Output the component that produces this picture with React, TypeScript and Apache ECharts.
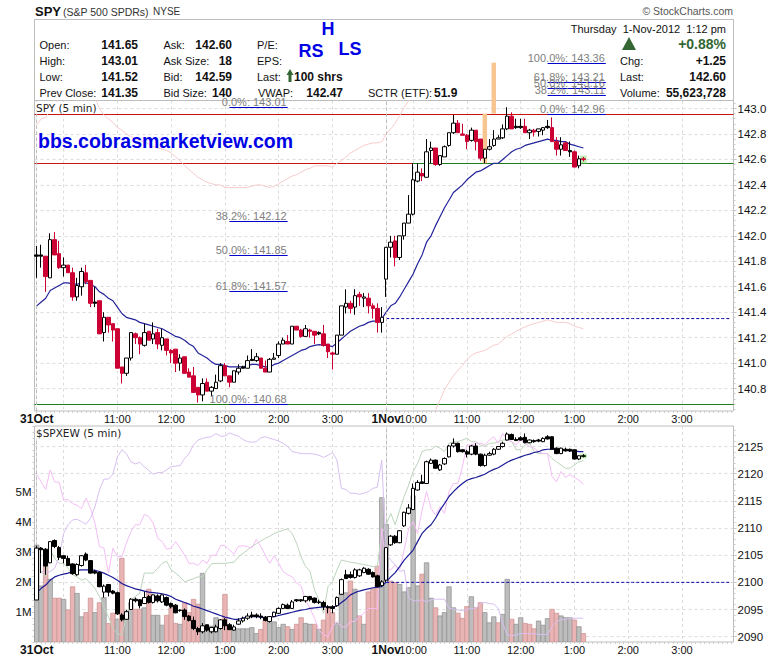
import React, { useEffect, useRef } from "react";
import * as echarts from "echarts";

// ---------- time axis ----------
const BARS_PER_SESSION = 78;
const sessionTimes: string[] = [];
for (let i = 0; i < BARS_PER_SESSION; i++) {
  const m = 9 * 60 + 30 + i * 5;
  sessionTimes.push(`${((Math.floor(m / 60) + 11) % 12) + 1}:${String(m % 60).padStart(2, "0")}`);
}
const categories = [...sessionTimes.map((t) => `31Oct ${t}`), ...sessionTimes.map((t) => `1Nov ${t}`)];
const xTickIndex = [0, 18, 30, 42, 54, 66, 78, 84, 96, 108, 120, 132, 144];
const xTickText = ["31Oct", "11:00", "12:00", "1:00", "2:00", "3:00", "1Nov", "10:00", "11:00", "12:00", "1:00", "2:00", "3:00"];
const xGridIndex = [0, 6, 18, 30, 42, 54, 66, 78, 84, 96, 108, 120, 132, 144];
const sessionStarts = [0, 78];

// ---------- SPY rows: open, high, low, close ----------
const spyBars: number[][] = [
  [141.85,141.92,141.67,141.84],[141.85,141.93,141.75,141.84],[141.84,141.84,141.56,141.68],[141.67,142.02,141.67,141.97],
  [141.97,142.03,141.85,141.85],[141.86,141.96,141.74,141.75],[141.75,141.83,141.68,141.77],[141.77,141.77,141.71,141.71],
  [141.71,141.75,141.49,141.52],[141.52,141.67,141.49,141.61],[141.60,141.75,141.53,141.72],[141.71,141.77,141.62,141.64],
  [141.65,141.65,141.44,141.47],[141.48,141.60,141.44,141.47],[141.49,141.49,141.23,141.23],[141.24,141.40,141.17,141.36],
  [141.36,141.36,141.24,141.30],[141.31,141.31,141.17,141.26],[141.27,141.27,140.96,140.96],[140.97,140.97,140.84,140.92],
  [140.92,141.04,140.90,141.04],[141.04,141.24,141.02,141.24],[141.23,141.24,141.15,141.20],[141.20,141.21,141.07,141.15],
  [141.14,141.31,141.13,141.24],[141.25,141.25,141.18,141.18],[141.19,141.32,141.15,141.23],[141.24,141.27,141.11,141.15],
  [141.14,141.27,141.10,141.20],[141.19,141.19,141.06,141.10],[141.10,141.11,141.00,141.08],[141.11,141.11,140.93,141.00],
  [141.00,141.07,140.94,141.04],[141.05,141.05,140.92,140.92],[140.93,140.96,140.89,140.89],[140.90,140.97,140.77,140.77],
  [140.81,140.81,140.69,140.75],[140.75,140.88,140.70,140.84],[140.85,140.88,140.78,140.78],[140.78,140.82,140.74,140.81],
  [140.80,140.91,140.80,140.85],[140.86,141.00,140.85,140.98],[140.98,141.00,140.90,140.90],[140.90,140.90,140.81,140.85],
  [140.85,140.94,140.85,140.94],[140.93,140.99,140.91,140.96],[140.97,140.98,140.96,140.96],[140.96,141.06,140.96,141.02],
  [141.03,141.11,141.02,141.02],[141.02,141.08,141.01,141.05],[141.04,141.04,140.96,140.96],[140.96,141.02,140.93,140.93],
  [140.93,141.04,140.93,141.03],[141.03,141.08,141.03,141.04],[141.06,141.17,141.04,141.15],[141.15,141.20,141.15,141.18],
  [141.17,141.22,141.15,141.15],[141.15,141.29,141.15,141.29],[141.29,141.29,141.26,141.26],[141.26,141.27,141.20,141.21],
  [141.21,141.30,141.21,141.27],[141.26,141.27,141.20,141.25],[141.25,141.25,141.15,141.22],[141.24,141.25,141.22,141.23],
  [141.23,141.30,141.13,141.14],[141.15,141.15,141.04,141.09],[141.08,141.09,140.95,141.07],[141.07,141.22,141.07,141.22],
  [141.22,141.45,141.22,141.45],[141.44,141.58,141.39,141.47],[141.47,141.49,141.39,141.43],[141.44,141.58,141.38,141.53],
  [141.54,141.56,141.45,141.52],[141.51,141.55,141.44,141.52],[141.51,141.55,141.39,141.45],[141.45,141.47,141.35,141.43],
  [141.43,141.47,141.24,141.32],[141.32,141.44,141.24,141.36],
  [141.66,141.91,141.52,141.91],[141.91,142.00,141.83,141.95],[141.96,142.00,141.76,141.83],[141.83,142.00,141.81,142.00],
  [142.00,142.10,141.97,142.10],[142.10,142.32,142.10,142.17],[142.17,142.57,142.16,142.44],[142.43,142.57,142.42,142.50],
  [142.49,142.53,142.43,142.47],[142.46,142.76,142.46,142.66],[142.67,142.74,142.57,142.69],[142.69,142.69,142.55,142.56],
  [142.56,142.63,142.55,142.63],[142.62,142.71,142.62,142.70],[142.71,142.81,142.70,142.81],[142.81,142.95,142.80,142.885],
  [142.885,142.91,142.81,142.81],[142.80,142.88,142.79,142.79],[142.79,142.80,142.68,142.74],[142.75,142.85,142.74,142.83],
  [142.83,142.83,142.67,142.74],[142.76,142.76,142.59,142.61],[142.61,142.68,142.57,142.68],[142.68,142.76,142.67,142.70],
  [142.71,142.83,142.70,142.76],[142.76,142.79,142.76,142.77],[142.77,142.875,142.76,142.84],[142.84,143.01,142.83,142.94],
  [142.94,142.97,142.84,142.84],[142.86,142.92,142.84,142.85],[142.86,142.92,142.84,142.85],[142.86,142.92,142.81,142.81],
  [142.81,142.84,142.76,142.83],[142.83,142.84,142.78,142.815],[142.82,142.84,142.78,142.84],[142.83,142.85,142.79,142.85],
  [142.86,142.91,142.84,142.85],[142.85,142.93,142.74,142.74],[142.74,142.775,142.63,142.68],[142.68,142.775,142.63,142.715],
  [142.73,142.74,142.67,142.67],[142.67,142.74,142.62,142.66],[142.66,142.67,142.54,142.54],[142.55,142.63,142.53,142.605],
  [142.605,142.62,142.585,142.60],
];
const spyBlackBars = [0, 1, 13, 46, 48, 63, 107, 108, 114, 119];

const spyMa = [
  141.45,141.48,141.51,141.57,141.59,141.61,141.63,141.63,141.62,141.62,141.63,141.63,141.62,141.60,141.56,141.54,141.51,141.49,141.44,141.39,
  141.36,141.35,141.34,141.32,141.31,141.30,141.29,141.28,141.27,141.25,141.23,141.21,141.20,141.18,141.15,141.13,141.08,141.06,141.04,141.01,
  140.99,140.99,140.98,140.97,140.97,140.97,140.97,140.98,140.99,140.99,140.98,140.97,140.97,140.99,141.00,141.02,141.04,141.06,141.08,141.10,
  141.11,141.13,141.14,141.145,141.14,141.14,141.13,141.16,141.19,141.22,141.25,141.27,141.29,141.30,141.32,141.33,141.33,141.35,
  141.40,141.45,141.47,141.52,141.58,141.64,141.70,141.78,141.85,141.95,142.00,142.08,142.15,142.22,142.28,142.34,142.37,142.40,142.44,142.47,
  142.50,142.51,142.53,142.55,142.57,142.57,142.60,142.63,142.66,142.68,142.69,142.71,142.72,142.73,142.74,142.75,142.76,142.75,142.75,142.74,
  142.74,142.72,142.71,142.70,142.69,
];
const spyUpperBand = [
  142.87,142.92,142.93,142.985,143.02,143.09,143.12,143.16,143.18,143.19,143.17,143.14,143.10,143.08,143.00,142.95,142.92,142.89,142.85,142.83,
  142.80,142.78,142.76,142.75,142.74,142.72,142.70,142.69,142.68,142.67,142.65,142.62,142.59,142.55,142.52,142.49,142.46,142.44,142.42,142.41,
  142.40,142.40,142.38,142.38,142.38,142.38,142.38,142.38,142.39,142.40,142.40,142.39,142.38,142.39,142.41,142.43,142.45,142.47,142.48,142.50,
  142.52,142.53,142.55,142.55,142.55,142.55,142.54,142.57,142.59,142.62,142.65,142.67,142.69,142.71,142.72,142.73,142.73,142.74,142.80,142.84,
  142.885,142.945,143.01,143.06,143.12,
];
const spyLowerBandStart = 87;
const spyLowerBand = [
  140.47,140.55,140.63,140.71,140.79,140.85,140.90,140.945,140.98,141.03,141.06,141.08,141.09,141.10,141.12,141.14,141.15,141.18,141.21,141.23,
  141.25,141.27,141.285,141.30,141.31,141.32,141.33,141.34,141.33,141.32,141.32,141.32,141.31,141.29,141.28,141.27,
];

// ---------- $SPXEW rows: open, high, low, close ----------
const spxewBars: number[][] = [
  [2096.75,2106.75,2096.75,2106.3],[2106.3,2106.5,2101.7,2106.0],[2106.1,2106.3,2101.4,2103.0],[2103.6,2107.5,2103.5,2107.5],
  [2107.7,2107.9,2106.3,2106.6],[2106.4,2106.7,2104.1,2104.6],[2104.9,2105.0,2103.5,2104.4],[2104.4,2104.9,2103.0,2103.1],
  [2103.4,2103.5,2101.4,2101.6],[2101.4,2103.5,2101.2,2103.3],[2103.1,2105.0,2102.9,2104.9],[2105.2,2105.5,2103.9,2104.1],
  [2104.0,2104.1,2101.6,2101.7],[2102.0,2102.3,2101.5,2101.7],[2101.8,2102.0,2099.1,2099.2],[2098.2,2099.6,2097.2,2099.3],
  [2099.6,2099.6,2097.4,2098.2],[2098.4,2098.6,2097.8,2098.0],[2098.1,2098.3,2094.0,2094.2],[2094.0,2094.3,2092.8,2093.1],
  [2093.2,2094.9,2093.1,2094.6],[2095.0,2097.1,2094.9,2096.9],[2096.9,2097.2,2096.3,2096.6],[2096.8,2096.9,2095.2,2095.7],
  [2096.1,2098.3,2096.0,2097.2],[2097.4,2097.7,2096.1,2096.3],[2096.3,2097.8,2096.1,2097.7],[2097.5,2097.8,2096.3,2096.6],
  [2096.4,2097.8,2096.2,2097.7],[2097.2,2097.4,2095.6,2095.8],[2096.1,2096.3,2095.2,2095.5],[2095.8,2096.0,2094.3,2094.4],
  [2094.9,2095.0,2094.6,2094.8],[2094.9,2095.2,2093.1,2093.7],[2093.8,2094.0,2092.8,2093.0],[2093.0,2093.7,2091.2,2091.5],
  [2091.5,2091.8,2090.3,2090.9],[2090.9,2092.5,2090.6,2092.0],[2092.2,2092.2,2090.9,2091.2],[2090.9,2091.8,2090.6,2091.7],
  [2090.9,2092.2,2090.8,2091.8],[2091.5,2093.2,2091.3,2093.1],[2093.1,2093.4,2091.2,2092.0],[2092.2,2092.5,2091.2,2091.3],
  [2091.2,2092.2,2091.1,2091.8],[2092.3,2093.4,2092.2,2092.9],[2092.9,2093.7,2092.6,2093.4],[2093.4,2094.3,2093.1,2093.8],
  [2094.0,2094.6,2093.4,2093.7],[2094.0,2094.3,2093.4,2093.7],[2093.8,2094.3,2093.2,2093.6],[2093.6,2093.8,2092.8,2093.0],
  [2092.8,2093.7,2092.6,2093.7],[2093.7,2094.6,2093.6,2094.5],[2094.3,2095.4,2094.2,2095.2],[2095.2,2096.1,2095.1,2095.9],
  [2095.8,2096.1,2095.1,2095.2],[2095.2,2096.75,2095.1,2096.4],[2096.8,2096.9,2096.4,2096.6],[2096.8,2096.9,2096.4,2096.6],
  [2096.6,2097.5,2096.3,2097.4],[2097.4,2097.5,2096.5,2096.8],[2097.1,2097.2,2096.1,2096.3],[2096.4,2096.8,2096.0,2096.3],
  [2096.3,2096.6,2094.9,2095.5],[2095.5,2095.8,2094.3,2095.3],[2095.5,2095.8,2094.3,2095.2],[2095.7,2097.4,2095.5,2097.2],
  [2097.8,2100.7,2097.7,2100.5],[2101.4,2102.3,2100.6,2100.7],[2101.4,2102.0,2100.7,2100.9],[2100.9,2102.6,2100.7,2102.3],
  [2101.2,2102.5,2101.0,2102.3],[2101.8,2102.8,2101.7,2102.6],[2102.4,2102.6,2101.4,2101.5],[2101.8,2102.0,2100.9,2101.0],
  [2101.2,2101.4,2099.1,2099.2],[2099.4,2100.4,2099.2,2100.1],
  [2100.4,2106.4,2100.1,2106.4],[2106.9,2108.7,2106.7,2108.5],[2108.5,2108.7,2107.1,2107.3],[2107.3,2109.6,2107.2,2109.5],
  [2110.4,2113.0,2110.2,2112.9],[2112.7,2114.4,2112.5,2113.7],[2113.4,2118.2,2113.3,2117.3],[2117.0,2118.8,2116.9,2118.4],
  [2118.5,2119.8,2118.1,2118.2],[2118.2,2122.4,2118.1,2122.2],[2121.9,2122.8,2121.8,2122.5],[2122.5,2122.6,2120.9,2121.0],
  [2120.7,2121.8,2120.5,2121.6],[2121.8,2123.0,2121.6,2122.8],[2123.1,2125.3,2123.0,2125.1],[2125.1,2126.5,2124.8,2125.6],
  [2125.6,2125.7,2123.9,2124.05],[2124.4,2124.5,2123.9,2124.05],[2124.05,2124.4,2123.0,2123.6],[2123.6,2125.3,2123.4,2125.1],
  [2125.1,2125.6,2123.4,2123.6],[2123.6,2123.7,2121.3,2121.5],[2121.5,2123.7,2121.3,2123.4],[2123.4,2124.05,2123.3,2123.7],
  [2123.6,2124.7,2123.4,2124.5],[2124.5,2125.1,2124.4,2125.0],[2125.0,2125.9,2124.8,2125.6],[2126.2,2127.6,2126.1,2127.3],
  [2127.2,2127.4,2126.2,2126.3],[2126.3,2126.7,2126.0,2126.1],[2126.6,2126.9,2126.1,2126.2],[2126.7,2127.4,2125.6,2125.7],
  [2125.7,2126.3,2125.6,2126.2],[2126.1,2126.3,2125.7,2125.9],[2126.2,2126.4,2125.8,2126.0],[2125.9,2126.7,2125.8,2126.5],
  [2126.8,2127.1,2126.3,2126.4],[2126.8,2126.9,2124.4,2124.5],[2124.7,2124.85,2123.6,2123.7],[2123.7,2124.8,2123.6,2124.7],
  [2124.5,2124.8,2124.05,2124.2],[2124.5,2124.6,2124.0,2124.2],[2124.4,2124.5,2122.6,2122.7],[2122.7,2123.4,2122.5,2123.3],
  [2123.3,2123.6,2123.0,2123.2],
];
const spxewMa = [
  2098.1,2098.9,2099.5,2100.4,2101.0,2101.3,2101.5,2101.7,2102.0,2102.2,2102.3,2102.3,2102.3,2102.2,2102.0,2101.7,2101.3,2100.9,2100.4,2099.8,
  2099.4,2099.1,2098.8,2098.6,2098.4,2098.2,2098.1,2098.0,2097.9,2097.7,2097.4,2096.9,2096.6,2096.3,2096.0,2095.6,2095.4,
  2095.1,2094.8,2094.5,2094.2,2093.9,2093.6,2093.4,2093.2,2093.2,2093.4,2093.6,2093.7,2093.7,2093.6,2093.4,2093.6,2093.7,2093.9,2094.1,2094.3,
  2094.5,2094.7,2094.9,2095.0,2095.2,2095.3,2095.4,2095.5,2095.5,2095.4,2095.7,2096.3,2096.9,2097.7,2098.1,2098.4,2098.6,2098.8,2099.0,2099.1,2099.2,
  2100.1,2101.0,2101.8,2102.9,2104.1,2105.0,2105.95,2107.5,2109.0,2109.9,2110.6,2111.8,2113.3,2114.5,2115.8,2116.7,2117.5,2118.2,2118.8,2119.1,
  2119.3,2119.6,2119.9,2120.4,2120.8,2121.1,2121.6,2122.1,2122.5,2122.8,2123.1,2123.4,2123.6,2123.9,2124.05,2124.4,2124.5,2124.5,2124.5,2124.4,
  2124.4,2124.2,2124.2,2124.05,2124.05,
];
const overlayPink = [
  2119.8,2118.5,2117.1,2120.7,2118.5,2118.4,2115.2,2115.2,2114.5,2114.2,2113.6,2115.5,2113.6,2110.9,2106.6,2106.3,2101.7,2106.3,2104.7,2104.7,
  2107.2,2109.3,2110.6,2110.6,2112.5,2112.1,2110.9,2108.1,2107.5,2106.1,2106.3,2107.5,2106.3,2105.0,2103.5,2103.5,2103.1,
  2104.1,2103.5,2105.0,2105.0,2106.75,2106.75,2106.0,2105.2,2106.6,2106.75,2106.6,2106.3,2107.9,2106.6,2105.0,2103.5,2104.9,2103.5,2102.0,2101.4,
  2101.0,2099.9,2099.3,2096.75,2095.2,2093.4,2091.2,2090.4,2090.0,2091.8,2092.8,2091.8,2091.8,2092.8,2092.8,2093.7,2094.3,2095.2,2095.2,2095.2,2109.9,
  2102.9,2102.3,2103.2,2102.3,2106.0,2109.9,2111.2,2109.0,2113.3,2116.7,2113.6,2112.4,2113.9,2112.7,2116.7,2118.2,2118.2,2121.3,2125.3,2125.3,
  2125.6,2125.6,2125.3,2126.2,2126.8,2125.6,2127.4,2126.2,2125.9,2125.3,2126.2,2125.6,2125.0,2124.7,2124.05,2123.7,2123.7,2119.5,2118.5,2120.4,
  2119.3,2119.8,2119.3,2118.8,2118.1,
];
const overlayPurple = [
  2102.9,2102.0,2101.7,2102.0,2102.6,2104.7,2109.0,2110.6,2111.5,2111.6,2111.2,2110.7,2111.8,2113.9,2117.0,2119.0,2119.0,2119.9,2123.1,2124.4,
  2123.7,2122.2,2121.8,2122.1,2121.3,2120.6,2119.9,2120.2,2120.2,2120.7,2121.3,2121.4,2121.5,2122.8,2123.7,2125.3,2126.2,
  2126.5,2126.7,2126.8,2127.4,2126.9,2126.9,2127.5,2127.2,2126.9,2126.3,2125.9,2125.8,2125.9,2126.6,2126.8,2126.5,2126.3,2126.0,2125.6,2125.0,
  2124.05,2123.9,2123.7,2123.7,2123.7,2123.6,2123.4,2123.0,2123.4,2123.9,2122.5,2117.3,2117.1,2116.4,2116.4,2116.2,2116.4,2116.7,2117.3,2117.5,2122.5,
  2105.3,2104.1,2103.2,2102.0,2102.3,2097.1,2096.6,2096.6,2096.8,2096.4,2096.8,2096.9,2096.9,2096.9,2095.2,2095.1,2094.9,2094.8,2095.0,2095.2,
  2095.2,2096.1,2096.3,2096.1,2096.0,2095.2,2092.5,2090.3,2090.2,2090.3,2090.6,2090.6,2090.5,2090.6,2090.4,2090.4,2090.4,2091.8,2092.8,2093.1,
  2093.2,2093.4,2093.4,2093.4,2093.4,
];
const overlayGreen = [
  2102.9,2102.0,2101.0,2105.95,2104.4,2103.5,2103.5,2102.6,2101.4,2101.0,2100.4,2100.7,2099.8,2098.9,2097.4,2095.5,2093.7,2091.5,2090.6,2090.3,
  2093.7,2096.75,2097.4,2098.0,2101.7,2101.7,2101.7,2102.6,2103.5,2103.9,2102.3,2101.7,2101.0,2100.1,2100.4,2100.7,2101.0,
  2101.0,2102.3,2103.4,2103.5,2103.5,2103.5,2103.6,2103.7,2104.7,2105.3,2105.95,2106.6,2107.1,2107.6,2108.1,2108.5,2109.0,2109.3,2109.6,2109.8,
  2109.0,2107.2,2104.7,2102.9,2102.0,2098.6,2096.75,2094.3,2099.2,2100.1,2102.3,2104.1,2103.9,2103.7,2103.6,2103.4,2103.3,2103.1,2102.9,2102.9,2109.0,
  2110.6,2112.7,2110.6,2113.3,2115.8,2117.9,2120.4,2121.9,2124.05,2124.4,2124.4,2125.1,2124.7,2124.05,2125.6,2125.9,2125.9,2126.2,2126.5,2125.9,
  2125.9,2125.3,2125.0,2125.6,2125.6,2125.9,2126.2,2126.2,2125.9,2124.4,2124.4,2125.3,2125.6,2124.05,2123.7,2123.7,2123.7,2122.8,2122.2,2121.6,
  2121.0,2121.0,2121.6,2122.2,2122.4,
];
const volumeMillions = [
  3.23,1.87,2.57,2.09,1.46,1.46,1.42,1.07,1.84,1.62,0.84,0.98,1.46,0.98,1.31,1.48,0.62,0.96,0.76,2.79,
  1.03,1.31,1.09,1.09,1.14,1.76,0.89,0.89,0.56,0.89,1.14,0.62,0.59,1.31,0.98,1.42,1.26,2.29,0.42,0.53,
  0.81,0.64,1.59,0.53,0.42,0.44,0.44,0.44,0.48,0.28,0.42,0.72,0.64,0.67,0.48,0.59,0.51,0.42,0.59,0.81,
  0.62,0.59,0.59,0.42,0.73,1.11,0.98,0.62,1.64,1.64,2.03,1.76,0.87,0.59,1.67,1.76,2.53,4.81,
  3.92,2.03,1.98,1.92,1.67,1.81,4.87,1.87,2.26,2.64,1.46,1.14,0.87,0.98,1.84,1.14,0.96,0.79,1.18,1.51,
  1.14,1.31,0.98,0.64,0.84,0.64,0.92,2.09,0.76,0.59,0.81,0.62,0.59,0.44,0.70,0.56,0.78,1.09,0.96,0.87,
  0.81,0.81,0.73,0.51,0.28,
];
const volumeRedBars = [
  2,4,5,7,8,11,12,14,16,17,19,22,23,25,29,30,31,33,34,35,36,42,43,50,51,56,58,59,62,64,65,66,70,72,74,75,76,
  79,80,86,89,94,95,96,98,99,103,106,109,110,111,115,116,120,122,
];

// ---------- annotations ----------
const leftFibStart = 43, leftFibEnd = 56;
const rightFibStart = 114, rightFibEnd = 127;
const leftFibPct = ["0.0%", "38.2%", "50.0%", "61.8%", "100.0%"];
const leftFibPrice = [143.01, 142.12, 141.85, 141.57, 140.68];
const rightFibPct = ["100.0%", "61.8%", "50.0%", "38.2%", "0.0%"];
const rightFibPrice = [143.36, 143.21, 143.16, 143.11, 142.96];
const prevCloseStart = 78, spyPrevClose = 141.35, spxewRefLevel = 2100;
const redLevel = 142.96, midLevel = 142.57, lowLevel = 140.68, midLevelSwitch = 84;
const orangeBars = [[102, 142.96, 143.36], [100, 142.57, 142.96]];
const spyLastMarker = [122, 142.57, 142.63];
const spxewLastMarker = [122, 2122.8, 2123.7];
const spyTicks = [140.8, 141.0, 141.2, 141.4, 141.6, 141.8, 142.0, 142.2, 142.4, 142.6, 142.8, 143.0];
const spxewTicks = [2090, 2095, 2100, 2105, 2110, 2115, 2120, 2125];
const volumeLabels = [1, 2, 3, 4, 5];
const spyMinorStep = 0.04, spxewMinorStep = 1, volumeMinorStep = 0.2;

const col1Labels = ["Open:", "High:", "Low:", "Prev Close:"];
const col1Values = ["141.65", "143.01", "141.52", "141.35"];
const col2Labels = ["Ask:", "Ask Size:", "Bid:", "Bid Size:"];
const col2Values = ["142.60", "18", "142.59", "140"];
const quoteLabels = ["Chg:", "Last:", "Volume:"];
const quoteValues = ["+1.25", "142.60", "55,623,728"];

const FONT = '"Liberation Sans", Arial, sans-serif';
const RED = "#CC0033";
const GRID = "#dcdcdc";
const FRAME = "#bdbdbd";
const DGREEN = "#336633";

function steps(from: number, to: number, step: number) {
  const out: number[] = [];
  const n = Math.round((to - from) / step);
  for (let i = 0; i <= n; i++) out.push(Number((from + i * step).toFixed(3)));
  return out;
}

function txt(x: number, y: number, text: string, o: any = {}) {
  return {
    type: "text", x, y, z: 20, silent: true,
    style: { text, fontFamily: FONT, fontSize: 11, fill: "#111", verticalAlign: "middle", align: "left", ...o },
  };
}

function buildGraphic() {
  const g: any[] = [];
  g.push({ type: "rect", shape: { x: 34.5, y: 19.5, width: 699, height: 81 }, z: 1, style: { fill: "none", stroke: FRAME, lineWidth: 1 } });
  g.push(txt(35, 11, "SPY", { fontWeight: "bold", fontSize: 13 }));
  g.push(txt(63, 11.5, "(S&P 500 SPDRs)", { fontSize: 10.5, fill: "#333" }));
  g.push(txt(153, 11.5, "NYSE", { fontSize: 10, fill: "#333" }));
  g.push(txt(733, 11, "\u00A9 StockCharts.com", { fontSize: 10.5, fill: "#555", align: "right" }));
  const rows = [44.5, 60.5, 76.5, 92.5];
  rows.forEach((y, i) => {
    g.push(txt(39.5, y, col1Labels[i]));
    g.push(txt(138, y, col1Values[i], { fontWeight: "bold", fontSize: 12, align: "right" }));
    g.push(txt(163.5, y, col2Labels[i]));
    g.push(txt(232, y, col2Values[i], { fontWeight: "bold", fontSize: 12, align: "right" }));
  });
  g.push(txt(257, 44.5, "P/E:"));
  g.push(txt(257, 60.5, "EPS:"));
  g.push(txt(257, 76.5, "Last:"));
  g.push({ type: "polygon", z: 20, shape: { points: [[290, 69], [293.5, 75], [291.5, 75], [291.5, 82], [288.5, 82], [288.5, 75], [286.5, 75]] }, style: { fill: DGREEN } });
  g.push(txt(294, 76.5, "100 shrs", { fontWeight: "bold", fontSize: 12 }));
  g.push(txt(258, 92.5, "VWAP:"));
  g.push(txt(343, 92.5, "142.47", { fontWeight: "bold", fontSize: 12, align: "right" }));
  g.push(txt(368, 92.5, "SCTR (ETF):"));
  g.push(txt(434, 92.5, "51.9", { fontWeight: "bold", fontSize: 12 }));
  g.push(txt(328, 28.5, "H", { fontWeight: "bold", fontSize: 18, fill: "#0000e6", align: "center" }));
  g.push(txt(311, 50.5, "RS", { fontWeight: "bold", fontSize: 18, fill: "#0000e6", align: "center" }));
  g.push(txt(350, 48.5, "LS", { fontWeight: "bold", fontSize: 18, fill: "#0000e6", align: "center" }));
  g.push(txt(726, 28.5, "Thursday  1-Nov-2012  1:12 pm", { align: "right", fontSize: 11 }));
  g.push({ type: "polygon", z: 20, shape: { points: [[629, 37], [636, 50], [622, 50]] }, style: { fill: DGREEN } });
  g.push(txt(726, 44, "+0.88%", { align: "right", fontWeight: "bold", fontSize: 14, fill: DGREEN }));
  [60.5, 76.5, 92.5].forEach((y, i) => {
    g.push(txt(620, y, quoteLabels[i]));
    g.push(txt(726, y, quoteValues[i], { align: "right", fontWeight: "bold", fontSize: 12 }));
  });
  g.push(txt(38, 140.5, "bbs.cobrasmarketview.com", { fontWeight: "bold", fontSize: 19.5, fill: "#0000e6" }));
  g.push(txt(36, 107.5, "SPY (5 min)", { fontFamily: '"DejaVu Sans"', fontSize: 10.5, fill: "#222", backgroundColor: "#fff" }));
  g.push(txt(36, 433, "$SPXEW (5 min)", { fontFamily: '"DejaVu Sans"', fontSize: 10.5, fill: "#222", backgroundColor: "#fff" }));
  return g;
}

function xAxis(gridIndex: number) {
  return {
    type: "category", gridIndex, data: categories, boundaryGap: true,
    axisLine: { show: false },
    axisTick: { show: true, alignWithLabel: true, interval: 0, length: 2, lineStyle: { color: "#cfcfcf" } },
    axisLabel: {
      show: true, margin: 2, fontFamily: FONT, fontSize: 11, color: "#111",
      interval: (i: number) => xTickIndex.includes(i),
      formatter: (_: string, i: number) => {
        const s = xTickText[xTickIndex.indexOf(i)];
        return sessionStarts.includes(i) ? `{b|${s}}` : s;
      },
      rich: { b: { fontWeight: "bold", fontFamily: FONT, fontSize: 12, color: "#111" } },
    },
    splitLine: {
      show: true, alignWithLabel: true, interval: (i: number) => xGridIndex.includes(i),
      lineStyle: { color: GRID, type: [3, 3], width: 1 },
    },
  };
}

function candle(rows: number[][], isBlack: (i: number, r: number[]) => boolean) {
  return rows.map((r, i) => {
    const black = isBlack(i, r);
    return {
      value: [r[0], r[3], r[2], r[1]],
      itemStyle: black
        ? { color: "#000", color0: "#000", borderColor: "#000", borderColor0: "#000", borderColorDoji: "#000" }
        : undefined,
    };
  });
}

function levelRender(params: any, api: any) {
  const g = params.coordSys;
  const price = api.value(2);
  const y = Math.round(api.coord([0, price])[1]) + 0.5;
  const a = api.value(0), b = api.value(1);
  const x1 = a < 0 ? g.x : api.coord([a, price])[0];
  const x2 = b < 0 ? g.x + g.width : api.coord([b, price])[0];
  return { type: "line", shape: { x1, y1: y, x2, y2: y }, style: { stroke: api.value(3) === 1 ? "#1b7a1b" : "#cc1111", lineWidth: 1.2 }, silent: true };
}

function fibRender(labels: string[], prices: number[]) {
  return (params: any, api: any) => {
    const a = api.coord([api.value(0), api.value(2)]);
    const b = api.coord([api.value(1), api.value(2)]);
    const y = Math.round(a[1]) + 0.5;
    return {
      type: "group",
      children: [
        { type: "line", shape: { x1: a[0], y1: y, x2: b[0], y2: y }, style: { stroke: "#0000cc", lineWidth: 1 } },
        {
          type: "text", x: b[0] - 1, y: y - 5.5,
          style: {
            text: `${labels[params.dataIndex]}: ${prices[params.dataIndex].toFixed(2)}`,
            fontFamily: FONT, fontSize: 11, fill: "#808080", align: "right", verticalAlign: "middle",
          },
        },
      ],
    };
  };
}

function blockRender(width: number, fill: string) {
  return (_: any, api: any) => {
    const top = api.coord([api.value(0), api.value(2)]);
    const bot = api.coord([api.value(0), api.value(1)]);
    return { type: "rect", shape: { x: top[0] - width / 2, y: top[1], width, height: bot[1] - top[1] }, style: { fill }, silent: true };
  };
}

function volumeRender(params: any, api: any) {
  const top = api.coord([api.value(0), api.value(1)]);
  const base = api.coord([api.value(0), 0]);
  const band = api.size([1, 0])[0];
  const red = volumeRedBars.includes(params.dataIndex);
  return {
    type: "rect",
    shape: { x: top[0] - band / 2, y: top[1], width: band, height: base[1] - top[1] },
    style: { fill: red ? "#e9b4b4" : "#bdbdbd", stroke: red ? "#cf9595" : "#959595", lineWidth: 0.8 },
    silent: true,
  };
}

function thinLine(name: string, xi: number, yi: number, data: any[], color: string, width = 1, z = 3) {
  return { name, type: "line", xAxisIndex: xi, yAxisIndex: yi, data, symbol: "none", silent: true, z, clip: true, connectNulls: false, lineStyle: { color, width } };
}

function minorAxis(gridIndex: number, position: string, min: number, max: number, values: number[]) {
  return {
    type: "value", gridIndex, position, min, max, scale: true,
    axisLine: { show: false },
    axisTick: { show: true, length: 2, lineStyle: { color: "#c8c8c8" }, customValues: values },
    axisLabel: { show: false },
    splitLine: { show: false },
  };
}

function buildOption() {
  const pad = (start: number, arr: number[]) => [...new Array(start).fill(null), ...arr];
  const sessionLine = (yi: number, xi: number) => ({
    type: "line", xAxisIndex: xi, yAxisIndex: yi, data: [], symbol: "none", silent: true, z: 1,
    markLine: {
      silent: true, symbol: "none", label: { show: false },
      lineStyle: { color: "#bdbdbd", type: [3, 3], width: 1 },
      data: sessionStarts.map((s) => ({ xAxis: s })),
    },
  });
  return {
    animation: false,
    backgroundColor: "#fff",
    graphic: buildGraphic(),
    grid: [
      { left: 34.5, top: 100.5, width: 699, height: 310.5, show: true, backgroundColor: "#fff", borderColor: FRAME, borderWidth: 1 },
      { left: 34.5, top: 426, width: 699, height: 216, show: true, backgroundColor: "#fff", borderColor: FRAME, borderWidth: 1 },
    ],
    xAxis: [xAxis(0), xAxis(1)],
    yAxis: [
      {
        type: "value", gridIndex: 0, position: "right", min: 140.624, max: 143.063, scale: true,
        axisLine: { show: false },
        axisTick: { show: true, length: 3, lineStyle: { color: FRAME }, customValues: spyTicks },
        axisLabel: { margin: 4, fontFamily: FONT, fontSize: 11.5, color: "#111", customValues: spyTicks, formatter: (v: number) => v.toFixed(1) },
        splitLine: { show: true, lineStyle: { color: GRID, type: [3, 3] } },
      },
      {
        type: "value", gridIndex: 1, position: "right", min: 2089.02, max: 2128.78, scale: true,
        axisLine: { show: false },
        axisTick: { show: true, length: 3, lineStyle: { color: FRAME }, customValues: spxewTicks },
        axisLabel: { margin: 4, fontFamily: FONT, fontSize: 11.5, color: "#111", customValues: spxewTicks, formatter: (v: number) => String(v) },
        splitLine: { show: true, lineStyle: { color: GRID, type: [3, 3] } },
      },
      {
        type: "value", gridIndex: 1, position: "left", min: 0, max: 7.2,
        axisLine: { show: false },
        axisTick: { show: true, length: 2, lineStyle: { color: FRAME }, customValues: volumeLabels },
        axisLabel: { margin: 3, fontFamily: FONT, fontSize: 11.5, color: "#111", customValues: volumeLabels, formatter: (v: number) => `${v}M` },
        splitLine: { show: false },
      },
      minorAxis(0, "right", 140.624, 143.063, steps(140.64, 143.04, spyMinorStep)),
      minorAxis(1, "right", 2089.02, 2128.78, steps(2090, 2128, spxewMinorStep)),
      minorAxis(1, "left", 0, 7.2, steps(0, 7.2, volumeMinorStep)),
    ],
    series: [
      sessionLine(0, 0),
      sessionLine(1, 1),
      // top panel
      thinLine("Upper band", 0, 0, spyUpperBand, "#f7cccc"),
      thinLine("Lower band", 0, 0, pad(spyLowerBandStart, spyLowerBand), "#f7cccc"),
      {
        type: "custom", xAxisIndex: 0, yAxisIndex: 0, z: 3, silent: true, renderItem: levelRender,
        data: [[-1, -1, redLevel, 0], [-1, midLevelSwitch, midLevel, 0], [midLevelSwitch, -1, midLevel, 1], [-1, -1, lowLevel, 1]],
      },
      {
        type: "custom", xAxisIndex: 0, yAxisIndex: 0, z: 3, silent: true, renderItem: blockRender(4.5, "#F7C690"),
        data: orangeBars,
      },
      {
        type: "custom", xAxisIndex: 0, yAxisIndex: 0, z: 3, silent: true, renderItem: blockRender(6.5, "#bdeeb0"),
        data: [spyLastMarker],
      },
      thinLine("Prev close", 0, 0, pad(prevCloseStart, new Array(BARS_PER_SESSION).fill(spyPrevClose)), "#0000aa"),
      thinLine("SPY MA", 0, 0, spyMa, "#23239b", 1.2, 4),
      {
        name: "SPY", type: "candlestick", xAxisIndex: 0, yAxisIndex: 0, barWidth: 4, z: 5, silent: true,
        itemStyle: { color: "#fff", color0: RED, borderColor: "#000", borderColor0: RED, borderColorDoji: RED, borderWidth: 1 },
        data: candle(spyBars, (i) => spyBlackBars.includes(i)),
      },
      {
        type: "custom", xAxisIndex: 0, yAxisIndex: 0, z: 6, silent: true, renderItem: fibRender(leftFibPct, leftFibPrice),
        data: leftFibPrice.map((p) => [leftFibStart, leftFibEnd, p]),
      },
      {
        type: "custom", xAxisIndex: 0, yAxisIndex: 0, z: 6, silent: true, renderItem: fibRender(rightFibPct, rightFibPrice),
        data: rightFibPrice.map((p) => [rightFibStart, rightFibEnd, p]),
      },
      // bottom panel
      {
        name: "Volume", type: "custom", xAxisIndex: 1, yAxisIndex: 2, z: 2, silent: true, clip: true,
        renderItem: volumeRender,
        data: volumeMillions.map((v, i) => [i, v]),
      },
      thinLine("Overlay green", 1, 1, overlayGreen, "#bcd4bc"),
      thinLine("Overlay pink", 1, 1, overlayPink, "#f5bdf5"),
      thinLine("Overlay purple", 1, 1, overlayPurple, "#d8bff0"),
      {
        type: "custom", xAxisIndex: 1, yAxisIndex: 1, z: 3, silent: true, renderItem: blockRender(6.5, "#bdeeb0"),
        data: [spxewLastMarker],
      },
      thinLine("Ref level", 1, 1, pad(prevCloseStart, new Array(BARS_PER_SESSION).fill(spxewRefLevel)), "#0000aa"),
      thinLine("SPXEW MA", 1, 1, spxewMa, "#1a1a96", 1.2, 4),
      {
        name: "$SPXEW", type: "candlestick", xAxisIndex: 1, yAxisIndex: 1, barWidth: 4, z: 5, silent: true,
        itemStyle: { color: "#fff", color0: "#000", borderColor: "#000", borderColor0: "#000", borderColorDoji: "#000", borderWidth: 1 },
        data: candle(spxewBars, () => false),
      },
    ],
  };
}

export default function App() {
  const ref = useRef<HTMLDivElement>(null);
  useEffect(() => {
    document.body.style.margin = "0";
    const chart = echarts.init(ref.current!, undefined, { renderer: "svg" });
    const opt: any = buildOption();
    opt.series.forEach((s: any) => {
      if (s.name === "Prev close" || s.name === "Ref level") s.lineStyle.type = [3, 2];
    });
    chart.setOption(opt);
    return () => chart.dispose();
  }, []);
  return <div ref={ref} style={{ position: "absolute", left: 0, top: 0, width: 780, height: 659, background: "#fff" }} />;
}
